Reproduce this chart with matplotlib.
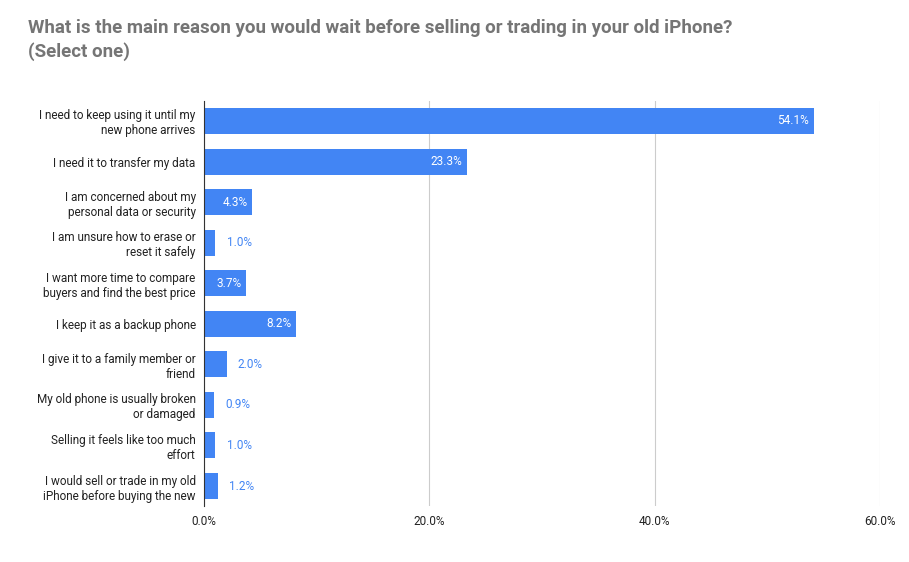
import matplotlib
matplotlib.use("Agg")
import matplotlib.pyplot as plt

categories = [
    "I need to keep using it until my\nnew phone arrives",
    "I need it to transfer my data",
    "I am concerned about my\npersonal data or security",
    "I am unsure how to erase or\nreset it safely",
    "I want more time to compare\nbuyers and find the best price",
    "I keep it as a backup phone",
    "I give it to a family member or\nfriend",
    "My old phone is usually broken\nor damaged",
    "Selling it feels like too much\neffort",
    "I would sell or trade in my old\niPhone before buying the new",
]
values = [54.1, 23.3, 4.3, 1.0, 3.7, 8.2, 2.0, 0.9, 1.0, 1.2]
xticks = [0, 20, 40, 60]

plt.rcParams['font.family'] = ['Roboto', 'DejaVu Sans']
fig = plt.figure(figsize=(9.09, 5.62), dpi=100)
ax = fig.add_axes([204/909, 1-506.3/562, 676/909, (506.3-100.7)/562])
blue = "#4285f4"
y = list(range(len(values)))
ax.barh(y, values, height=0.64, color=blue, zorder=3)
for i, v in enumerate(values):
    if v >= 3.5:
        ax.text(v - 0.4, i, f"{v:.1f}%", color="white", ha="right", va="center", fontsize=8.5, zorder=4)
    else:
        ax.text(v + 1.0, i, f"{v:.1f}%", color=blue, ha="left", va="center", fontsize=8.5, zorder=4)
ax.set_ylim(len(values)-0.5, -0.5)
ax.set_xlim(0, 60)
ax.set_yticks(y)
ax.set_yticklabels(categories, fontsize=8.5, color="#222222")
ax.set_xticks(xticks)
ax.set_xticklabels([f"{t:.1f}%" for t in xticks], fontsize=8.5, color="#222222")
ax.tick_params(length=0, pad=6)
ax.grid(axis="x", color="#cccccc", linewidth=0.8, zorder=0)
for s in ["top", "right", "bottom"]:
    ax.spines[s].set_visible(False)
ax.spines["left"].set_color("#333333")
ax.spines["left"].set_zorder(5)
fig.text(28/909, 1-40/562, "What is the main reason you would wait before selling or trading in your old iPhone?\n(Select one)",
         fontsize=13.5, fontweight="bold", color="#757575", va="center", ha="left", linespacing=1.3)
fig.savefig("out.png", dpi=100)
